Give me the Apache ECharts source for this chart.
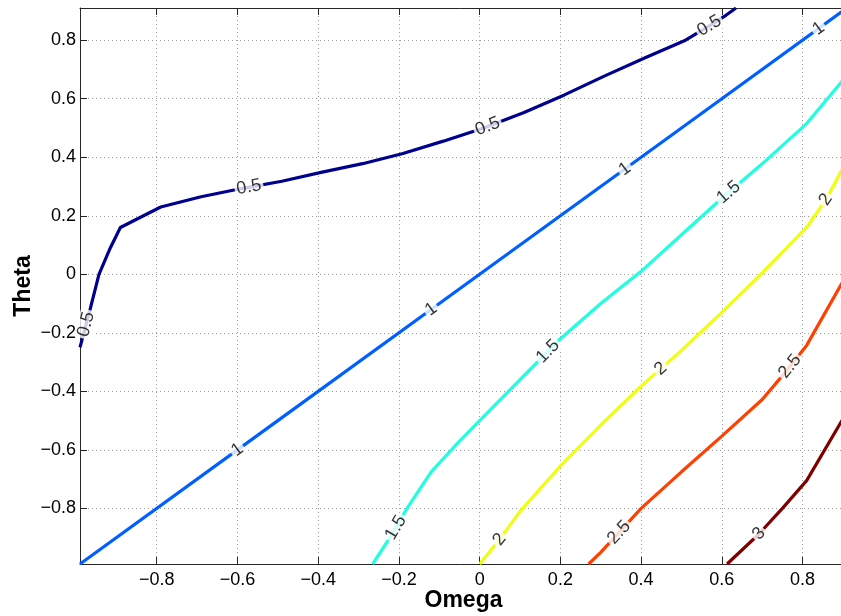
<!DOCTYPE html>
<html>
<head>
<meta charset="utf-8">
<script src="https://cdn.jsdelivr.net/npm/echarts@6/dist/echarts.min.js"></script>
<style>
html,body{margin:0;padding:0;background:#fff;}
#chart{width:841px;height:616px;}
</style>
</head>
<body>
<div id="chart"></div>
<script>
// ---- axis ranges and ticks ----
const xMin = -0.99, xMax = 0.91;
const yMin = -0.99, yMax = 0.91;
const xTicks = [-0.8, -0.6, -0.4, -0.2, 0, 0.2, 0.4, 0.6, 0.8];
const yTicks = [-0.8, -0.6, -0.4, -0.2, 0, 0.2, 0.4, 0.6, 0.8];

// ---- contour levels ----
const levels = [0.5, 1, 1.5, 2, 2.5, 3];
const levelText = ['0.5', '1', '1.5', '2', '2.5', '3'];

// ---- contour lines [Omega, Theta] ----
const c05 = [[-0.99,-0.25],[-0.965,-0.12],[-0.943,0.0],[-0.915,0.09],[-0.89,0.16],[-0.79,0.23],[-0.69,0.265],[-0.59,0.293],
  [-0.49,0.318],[-0.39,0.349],[-0.29,0.378],[-0.19,0.413],[-0.09,0.455],[0.01,0.50],[0.11,0.553],
  [0.21,0.613],[0.31,0.678],[0.41,0.74],[0.51,0.80],[0.569,0.849],[0.61,0.885],[0.635,0.91]];
const c10 = [[-0.99,-0.99],[-0.5,-0.5],[0,0],[0.5,0.5],[0.91,0.91]];
const c15 = [[-0.265,-0.99],[-0.22,-0.895],[-0.18,-0.80],[-0.12,-0.675],[-0.06,-0.585],[0,-0.50],
  [0.1,-0.36],[0.2,-0.22],[0.3,-0.10],[0.4,0.01],[0.5,0.135],[0.6,0.26],[0.71,0.39],[0.81,0.515],[0.91,0.68]];
const c20 = [[0,-0.99],[0.05,-0.905],[0.1,-0.81],[0.2,-0.655],[0.3,-0.515],[0.4,-0.382],[0.5,-0.26],
  [0.6,-0.13],[0.7,0.005],[0.81,0.16],[0.86,0.26],[0.91,0.39]];
const c25 = [[0.27,-0.99],[0.3,-0.95],[0.4,-0.80],[0.5,-0.675],[0.6,-0.553],[0.7,-0.428],[0.76,-0.33],
  [0.81,-0.243],[0.91,0.0]];
const c30 = [[0.613,-0.99],[0.69,-0.89],[0.75,-0.80],[0.81,-0.705],[0.91,-0.47]];

// ---- label positions on each contour ----
const lab05 = [[-0.972,-0.172],[-0.571,0.295],[0.02,0.505],[0.569,0.849]];
const lab10 = [[-0.6,-0.6],[-0.12,-0.12],[0.36,0.36],[0.84,0.84]];
const lab15 = [[-0.207,-0.866],[0.169,-0.263],[0.615,0.283]];
const lab20 = [[0.049,-0.906],[0.45,-0.325],[0.858,0.255]];
const lab25 = [[0.346,-0.883],[0.768,-0.314]];
const lab30 = [[0.693,-0.888]];

const lines = [c05, c10, c15, c20, c25, c30];
const labelSets = [lab05, lab10, lab15, lab20, lab25, lab30];
const colors = ['#00008F', '#0060FF', '#20FFDF', '#EFFF10', '#FF4000', '#800000'];

const FONT = 'Liberation Sans, Arial, Helvetica, sans-serif';
function fmt(v) {
  const r = Math.round(v * 10) / 10;
  if (r === 0) return '0';
  return (r < 0 ? '\u2212' : '') + Math.abs(r).toString();
}

const chart = echarts.init(document.getElementById('chart'), null, {renderer: 'canvas'});

const axisColor = '#262626';
const baseX = {
  type: 'value', min: xMin, max: xMax
};
const option = {
  animation: false,
  backgroundColor: '#fff',
  grid: {left: 80, right: -6, top: 8, bottom: 52, outerBoundsMode: 'none', containLabel: false},
  xAxis: [
    Object.assign({}, baseX, {
      position: 'bottom',
      name: 'Omega', nameLocation: 'middle', nameGap: 25, nameMoveOverlap: false,
      nameTextStyle: {fontFamily: FONT, fontWeight: 'bold', fontSize: 23, color: '#000', verticalAlign: 'top'},
      axisLine: {show: true, onZero: false, lineStyle: {color: axisColor, width: 1}},
      axisTick: {show: true, inside: true, length: 7, customValues: xTicks, lineStyle: {color: axisColor}},
      axisLabel: {show: true, customValues: xTicks, formatter: fmt, fontFamily: FONT, fontSize: 18, color: '#000', margin: 7},
      splitLine: {show: true, lineStyle: {type: [1, 3], color: '#9a9a9a', width: 1}}
    }),
    Object.assign({}, baseX, {
      position: 'top',
      axisLine: {show: true, onZero: false, lineStyle: {color: axisColor, width: 1}},
      axisTick: {show: true, inside: true, length: 7, customValues: xTicks, lineStyle: {color: axisColor}},
      axisLabel: {show: false},
      splitLine: {show: false}
    })
  ],
  yAxis: [{
    type: 'value', min: yMin, max: yMax, position: 'left',
    name: 'Theta', nameLocation: 'middle', nameGap: 45, nameMoveOverlap: false,
    nameTextStyle: {fontFamily: FONT, fontWeight: 'bold', fontSize: 23, color: '#000'},
    axisLine: {show: true, onZero: false, lineStyle: {color: axisColor, width: 1}},
    axisTick: {show: true, inside: true, length: 7, customValues: yTicks, lineStyle: {color: axisColor}},
    axisLabel: {show: true, customValues: yTicks, formatter: fmt, fontFamily: FONT, fontSize: 18, color: '#000', margin: 4},
    splitLine: {show: true, lineStyle: {type: [1, 3], color: '#9a9a9a', width: 1}}
  }],
  series: lines.map((d, i) => ({
    type: 'line', name: levelText[i], data: d, xAxisIndex: 0, yAxisIndex: 0,
    showSymbol: false, symbol: 'none', smooth: false, clip: true, silent: true,
    lineStyle: {color: colors[i], width: 3.2}, z: 2
  }))
};
chart.setOption(option);

// place labels on the lines, rotated along the local line direction
function px(p) { return chart.convertToPixel({xAxisIndex: 0, yAxisIndex: 0}, p); }
const labelData = [];
labelSets.forEach((set, li) => {
  const line = lines[li];
  set.forEach(lp => {
    const P = px(lp);
    let best = null;
    for (let k = 0; k < line.length - 1; k++) {
      const A = px(line[k]), B = px(line[k + 1]);
      const dx = B[0] - A[0], dy = B[1] - A[1];
      const L2 = dx * dx + dy * dy;
      let t = ((P[0] - A[0]) * dx + (P[1] - A[1]) * dy) / L2;
      t = Math.max(0, Math.min(1, t));
      const qx = A[0] + t * dx, qy = A[1] + t * dy;
      const d = (qx - P[0]) ** 2 + (qy - P[1]) ** 2;
      if (!best || d < best.d) {
        let ang = Math.atan2(-dy, dx) * 180 / Math.PI;
        if (ang > 90) ang -= 180;
        if (ang < -90) ang += 180;
        best = {d, ang,
          v: [line[k][0] + t * (line[k + 1][0] - line[k][0]), line[k][1] + t * (line[k + 1][1] - line[k][1])]};
      }
    }
    labelData.push({value: best.v, label: {rotate: best.ang, formatter: levelText[li]}});
  });
});

chart.setOption({
  series: option.series.concat([{
    type: 'scatter', data: labelData, xAxisIndex: 0, yAxisIndex: 0,
    symbolSize: 1, itemStyle: {color: 'transparent'}, silent: true, z: 5,
    label: {show: true, position: 'inside', color: '#000', fontFamily: FONT, fontSize: 18,
      backgroundColor: '#fff', padding: [0, 2]}
  }])
});
</script>
</body>
</html>
